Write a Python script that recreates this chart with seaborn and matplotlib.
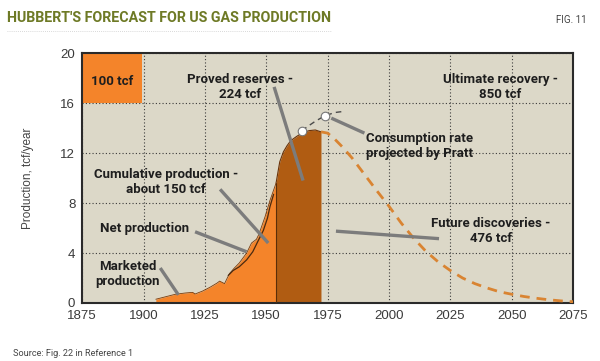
import matplotlib
matplotlib.use("Agg")
import matplotlib.pyplot as plt
import seaborn as sns
import pandas as pd
from matplotlib.lines import Line2D

# data
marketed_years = [1905, 1909, 1913, 1917, 1920, 1921, 1924, 1927, 1930, 1931, 1933, 1935, 1937, 1939,
                  1942, 1944, 1946, 1947, 1949.5, 1951.5, 1954]
marketed_vals = [0.3, 0.5, 0.7, 0.8, 0.85, 0.72, 0.95, 1.25, 1.6, 1.75, 1.55, 2.35, 2.8, 3.2,
                 4.0, 4.8, 5.1, 5.5, 6.9, 8.2, 9.6]

reserves_years = [1954, 1955.5, 1957, 1958.5, 1960, 1962.5, 1965, 1967.5, 1970, 1972.3]
reserves_vals = [9.6, 11.3, 12.1, 12.6, 13.0, 13.35, 13.65, 13.8, 13.85, 13.7]

forecast_years = [1972.3, 1975, 1978, 1981, 1985, 1990, 1995, 2000, 2005, 2010, 2015, 2020,
                  2025, 2030, 2035, 2040, 2045, 2050, 2055, 2060, 2065, 2070, 2075]
forecast_vals = [13.7, 13.6, 13.1, 12.5, 11.6, 10.3, 9.0, 7.75, 6.4, 5.2, 4.15, 3.3,
                 2.6, 2.0, 1.55, 1.2, 0.9, 0.7, 0.52, 0.38, 0.26, 0.17, 0.1]

net_years = [1934.5, 1936.5, 1939, 1942, 1944.5, 1946.5, 1948.8, 1950.5, 1951.5, 1953]
net_vals = [2.2, 2.6, 2.9, 3.45, 4.1, 4.9, 5.8, 6.8, 7.7, 8.7]

pratt_years = [1964.5, 1967, 1970, 1974, 1978, 1982]
pratt_vals = [13.8, 14.15, 14.55, 15.0, 15.25, 15.35]
pratt_marker_years = [1964.5, 1974]
pratt_marker_vals = [13.8, 15.0]

x_ticks = [1875, 1900, 1925, 1950, 1975, 2000, 2025, 2050, 2075]
y_ticks = [0, 4, 8, 12, 16, 20]

# text labels: (text, x, y, ha)
labels = [
    ("100 tcf", 1887, 17.7, "center"),
    ("Proved reserves -\n224 tcf", 1939.5, 17.3, "center"),
    ("Ultimate recovery -\n850 tcf", 2045.5, 17.3, "center"),
    ("Consumption rate\nprojected by Pratt", 1990.5, 12.6, "left"),
    ("Cumulative production -\nabout 150 tcf", 1909, 9.7, "center"),
    ("Net production", 1900.5, 6.0, "center"),
    ("Marketed\nproduction", 1893.5, 2.3, "center"),
    ("Future discoveries -\n476 tcf", 2041.5, 5.8, "center"),
]
# leader lines: (x0, y0, x1, y1)
leaders = [
    (1953.2, 17.3, 1965.0, 9.8),
    (1976.5, 14.8, 1990.0, 13.6),
    (1931.2, 9.1, 1950.8, 4.8),
    (1921.0, 5.7, 1942.0, 4.1),
    (1906.8, 2.8, 1914.2, 0.65),
    (1978.4, 5.75, 2020.4, 5.15),
]

sns.set_theme(style="white")
narrow = ["Roboto", "DejaVu Sans"]
plain = ["Liberation Sans", "DejaVu Sans"]
plt.rcParams["font.family"] = plain

orange = "#f4842a"
brown = "#b05c12"
bg = "#dcd8c8"

fig = plt.figure(figsize=(6, 3.61), dpi=100)
ax = fig.add_axes([0.137, 0.1607, 0.818, 0.692])
ax.set_facecolor(bg)

# 100 tcf box
ax.fill_between([1875, 1899.5], 16, 20, color=orange, lw=0, zorder=1)

mk = pd.DataFrame({"year": marketed_years, "val": marketed_vals})
rs = pd.DataFrame({"year": reserves_years, "val": reserves_vals})
fc = pd.DataFrame({"year": forecast_years, "val": forecast_vals})
nt = pd.DataFrame({"year": net_years, "val": net_vals})
pr = pd.DataFrame({"year": pratt_years, "val": pratt_vals})

ax.fill_between(mk["year"], 0, mk["val"], color=orange, lw=0, zorder=2)
ax.fill_between(rs["year"], 0, rs["val"], color=brown, lw=0, zorder=2)
ax.plot([1954, 1954], [0, 9.6], color="#5a2e08", lw=0.8, zorder=3)

sns.lineplot(data=mk, x="year", y="val", ax=ax, color="#7a3a08", lw=0.6, zorder=3)
sns.lineplot(data=rs, x="year", y="val", ax=ax, color="#6a3208", lw=0.8, zorder=3)
sns.lineplot(data=nt, x="year", y="val", ax=ax, color="#4a2a10", lw=0.9, zorder=4)
sns.lineplot(data=fc, x="year", y="val", ax=ax, color="#d98432", lw=2.0, zorder=4,
             linestyle=(0, (3.5, 2.5)))
sns.lineplot(data=pr, x="year", y="val", ax=ax, color="#4a4a4a", lw=1.0, zorder=4,
             linestyle=(0, (4, 3)))

for x0, y0, x1, y1 in leaders:
    ax.plot([x0, x1], [y0, y1], color="#7c7c7c", lw=2.4, solid_capstyle="butt", zorder=5)

ax.scatter(pratt_marker_years, pratt_marker_vals, s=38, color="white", edgecolor="#777777",
           linewidth=0.8, zorder=6)

for txt, x, y, ha in labels:
    ax.text(x, y, txt, ha=ha, va="center", fontsize=9.5, fontweight="bold",
            family=narrow, color="#1e1e1e", linespacing=1.2, zorder=7)

ax.set_xlim(1875, 2075)
ax.set_ylim(0, 20)
ax.set_xticks(x_ticks)
ax.set_yticks(y_ticks)
ax.grid(True, color="#3a3a3a", linestyle=(0, (1, 2)), lw=0.8)
ax.set_axisbelow(True)
ax.tick_params(axis="both", length=0, labelsize=9.5, labelcolor="#3a3a3a")
ax.tick_params(axis="x", pad=5)
ax.tick_params(axis="y", pad=5)
for s in ax.spines.values():
    s.set_color("#2a2a2a")
    s.set_linewidth(1.5)
ax.set_xlabel("")
ax.set_ylabel("Production, tcf/year", fontsize=8.5, color="#444444", labelpad=19)

fig.text(0.012, 0.951, "HUBBERT'S FORECAST FOR US GAS PRODUCTION", fontsize=10.3,
         fontweight="bold", family=narrow, color="#6e7a26", va="center", ha="left")
fig.text(0.978, 0.945, "FIG. 11", fontsize=7, family=narrow, color="#444444",
         va="center", ha="right")
fig.text(0.021, 0.022, "Source: Fig. 22 in Reference 1", fontsize=6.6, family=narrow,
         color="#444444", va="center", ha="left")
fig.add_artist(Line2D([0.012, 0.553], [0.915, 0.915], color="#cccccc", lw=0.6,
                      linestyle=(0, (1, 1.5))))

fig.savefig("out.png", dpi=100)
